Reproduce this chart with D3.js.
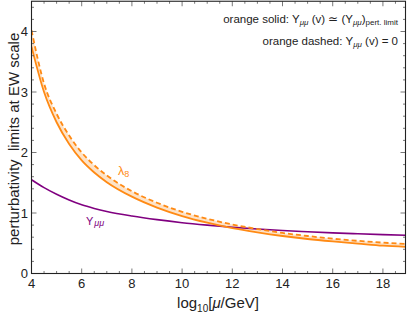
<!DOCTYPE html>
<html>
<head>
<meta charset="utf-8">
<script src="https://cdn.jsdelivr.net/npm/d3@7"></script>
<style>
  body { margin: 0; background: #fff; }
  svg { display: block; font-family: "Liberation Sans", Arial, sans-serif; }
</style>
</head>
<body>
<svg id="chart" width="407" height="314"></svg>
<script>
// values
var muLog = [4, 4.5, 5, 5.5, 6, 6.5, 7, 8, 9, 10, 11, 12, 13, 14, 15, 16, 17, 18, 18.9];
var lamSolid = [3.75, 3.00, 2.50, 2.14, 1.87, 1.67, 1.51, 1.27, 1.09, 0.95, 0.84, 0.75, 0.68, 0.62, 0.57, 0.53, 0.495, 0.46, 0.44];
var lamDashed = [4.02, 3.14, 2.64, 2.28, 2.00, 1.79, 1.62, 1.36, 1.17, 1.02, 0.905, 0.81, 0.735, 0.67, 0.62, 0.575, 0.54, 0.51, 0.49];
var yukawa = [1.55, 1.42, 1.31, 1.215, 1.135, 1.075, 1.025, 0.95, 0.89, 0.84, 0.80, 0.765, 0.735, 0.71, 0.69, 0.672, 0.657, 0.643, 0.632];
var xTicks = [4, 6, 8, 10, 12, 14, 16, 18];
var yTicks = [0, 1, 2, 3, 4];

var svg = d3.select("#chart"),
    width = +svg.attr("width"),
    height = +svg.attr("height");

var m = {left: 31.5, right: 1.5, top: 1.25, bottom: 40.5};

var x = d3.scaleLinear().domain([4, 18.9]).range([m.left, width - m.right]);
var y = d3.scaleLinear().domain([0, 4.5]).range([height - m.bottom, m.top]);

var orange = "#ff8a14", purple = "#800080";

var pts = muLog.map(function (d, i) {
  return {x: d, lo: lamSolid[i], hi: lamDashed[i], yk: yukawa[i]};
});

var plot = svg.append("g");
plot.append("clipPath").attr("id", "clip")
  .append("rect")
  .attr("x", m.left).attr("y", m.top)
  .attr("width", width - m.left - m.right)
  .attr("height", height - m.top - m.bottom);

var g = plot.append("g").attr("clip-path", "url(#clip)");

// band between the two orange curves
g.append("path")
  .datum(pts)
  .attr("fill", "#fde3c8")
  .attr("d", d3.area().curve(d3.curveMonotoneX)
    .x(function (d) { return x(d.x); })
    .y0(function (d) { return y(d.lo); })
    .y1(function (d) { return y(d.hi); }));

function line(key) {
  return d3.line().curve(d3.curveMonotoneX)
    .x(function (d) { return x(d.x); })
    .y(function (d) { return y(d[key]); });
}

g.append("path").datum(pts)
  .attr("fill", "none").attr("stroke", purple).attr("stroke-width", 1.6)
  .attr("d", line("yk"));

g.append("path").datum(pts)
  .attr("fill", "none").attr("stroke", orange).attr("stroke-width", 1.8)
  .attr("d", line("lo"));

g.append("path").datum(pts)
  .attr("fill", "none").attr("stroke", orange).attr("stroke-width", 1.8)
  .attr("stroke-dasharray", "5,3")
  .attr("d", line("hi"));

// frame with inward ticks on all sides
var xMinor = d3.range(4, 19, 0.5).filter(function (v) { return v % 2 !== 0; });
var yMinor = d3.range(0, 4.51, 0.2).filter(function (v) { return Math.abs(v - Math.round(v)) > 1e-6; });

var x0 = m.left, x1 = width - m.right, y0 = height - m.bottom, y1 = m.top;

var ticks = svg.append("g").attr("stroke", "#555").attr("stroke-width", 0.8);
function tickX(v, len) {
  ticks.append("line").attr("x1", x(v)).attr("x2", x(v)).attr("y1", y0).attr("y2", y0 - len);
  ticks.append("line").attr("x1", x(v)).attr("x2", x(v)).attr("y1", y1).attr("y2", y1 + len);
}
function tickY(v, len) {
  ticks.append("line").attr("y1", y(v)).attr("y2", y(v)).attr("x1", x0).attr("x2", x0 + len);
  ticks.append("line").attr("y1", y(v)).attr("y2", y(v)).attr("x1", x1).attr("x2", x1 - len);
}
xTicks.forEach(function (v) { tickX(v, 5); });
xMinor.forEach(function (v) { tickX(v, 2.5); });
yTicks.forEach(function (v) { tickY(v, 5); });
yMinor.forEach(function (v) { tickY(v, 2.5); });

svg.append("rect")
  .attr("x", x0).attr("y", y1)
  .attr("width", x1 - x0).attr("height", y0 - y1)
  .attr("fill", "none").attr("stroke", "#222").attr("stroke-width", 1.1);

// tick labels
svg.append("g").selectAll("text").data(xTicks).enter().append("text")
  .attr("x", function (d) { return x(d); })
  .attr("y", y0 + 14)
  .attr("text-anchor", "middle")
  .attr("font-size", 13).attr("fill", "#222")
  .text(function (d) { return d; });

svg.append("g").selectAll("text").data(yTicks).enter().append("text")
  .attr("x", x0 - 3.5)
  .attr("y", function (d) { return y(d) + 4.5; })
  .attr("text-anchor", "end")
  .attr("font-size", 13).attr("fill", "#222")
  .text(function (d) { return d; });

// axis titles
var xl = svg.append("text")
  .attr("x", 218).attr("y", 308)
  .attr("text-anchor", "middle")
  .attr("font-size", 15).attr("fill", "#222");
xl.append("tspan").text("log");
xl.append("tspan").attr("font-size", 10).attr("dy", 4).text("10");
xl.append("tspan").attr("dy", -4).text("[");
xl.append("tspan").attr("font-style", "italic").text("μ");
xl.append("tspan").text("/GeV]");

svg.append("text")
  .attr("transform", "translate(19,139) rotate(-90)")
  .attr("text-anchor", "middle")
  .attr("font-size", 15).attr("fill", "#222")
  .attr("xml:space", "preserve")
  .style("white-space", "pre")
  .text("perturbativity  limits at EW scale");

// curve labels
var lb = svg.append("text").attr("x", 118).attr("y", 175)
  .attr("font-size", 12.5).attr("fill", orange);
lb.append("tspan").text("λ");
lb.append("tspan").attr("font-size", 9).attr("dy", 2).text("8");

var yl = svg.append("text").attr("x", 86).attr("y", 225)
  .attr("font-size", 11).attr("fill", purple);
yl.append("tspan").text("Y");
yl.append("tspan").attr("font-size", 9).attr("font-style", "italic").attr("dx", 1).attr("dy", 1).text("μμ");

// annotation in the top right corner
var a1 = svg.append("text").attr("x", 398).attr("y", 23)
  .attr("text-anchor", "end").attr("font-size", 11.5).attr("fill", "#222");
a1.append("tspan").text("orange solid: Y");
a1.append("tspan").attr("font-size", 8).attr("font-style", "italic").attr("dy", 2).text("μμ");
a1.append("tspan").attr("dy", -2).text(" (v) ≃ (Y");
a1.append("tspan").attr("font-size", 8).attr("font-style", "italic").attr("dy", 2).text("μμ");
a1.append("tspan").attr("dy", -2).text(")");
a1.append("tspan").attr("font-size", 8).attr("dy", 2).text("pert. limit");

var a2 = svg.append("text").attr("x", 398).attr("y", 45)
  .attr("text-anchor", "end").attr("font-size", 11.5).attr("fill", "#222");
a2.append("tspan").text("orange dashed: Y");
a2.append("tspan").attr("font-size", 8).attr("font-style", "italic").attr("dy", 2).text("μμ");
a2.append("tspan").attr("dy", -2).text(" (v) = 0");
</script>
</body>
</html>
